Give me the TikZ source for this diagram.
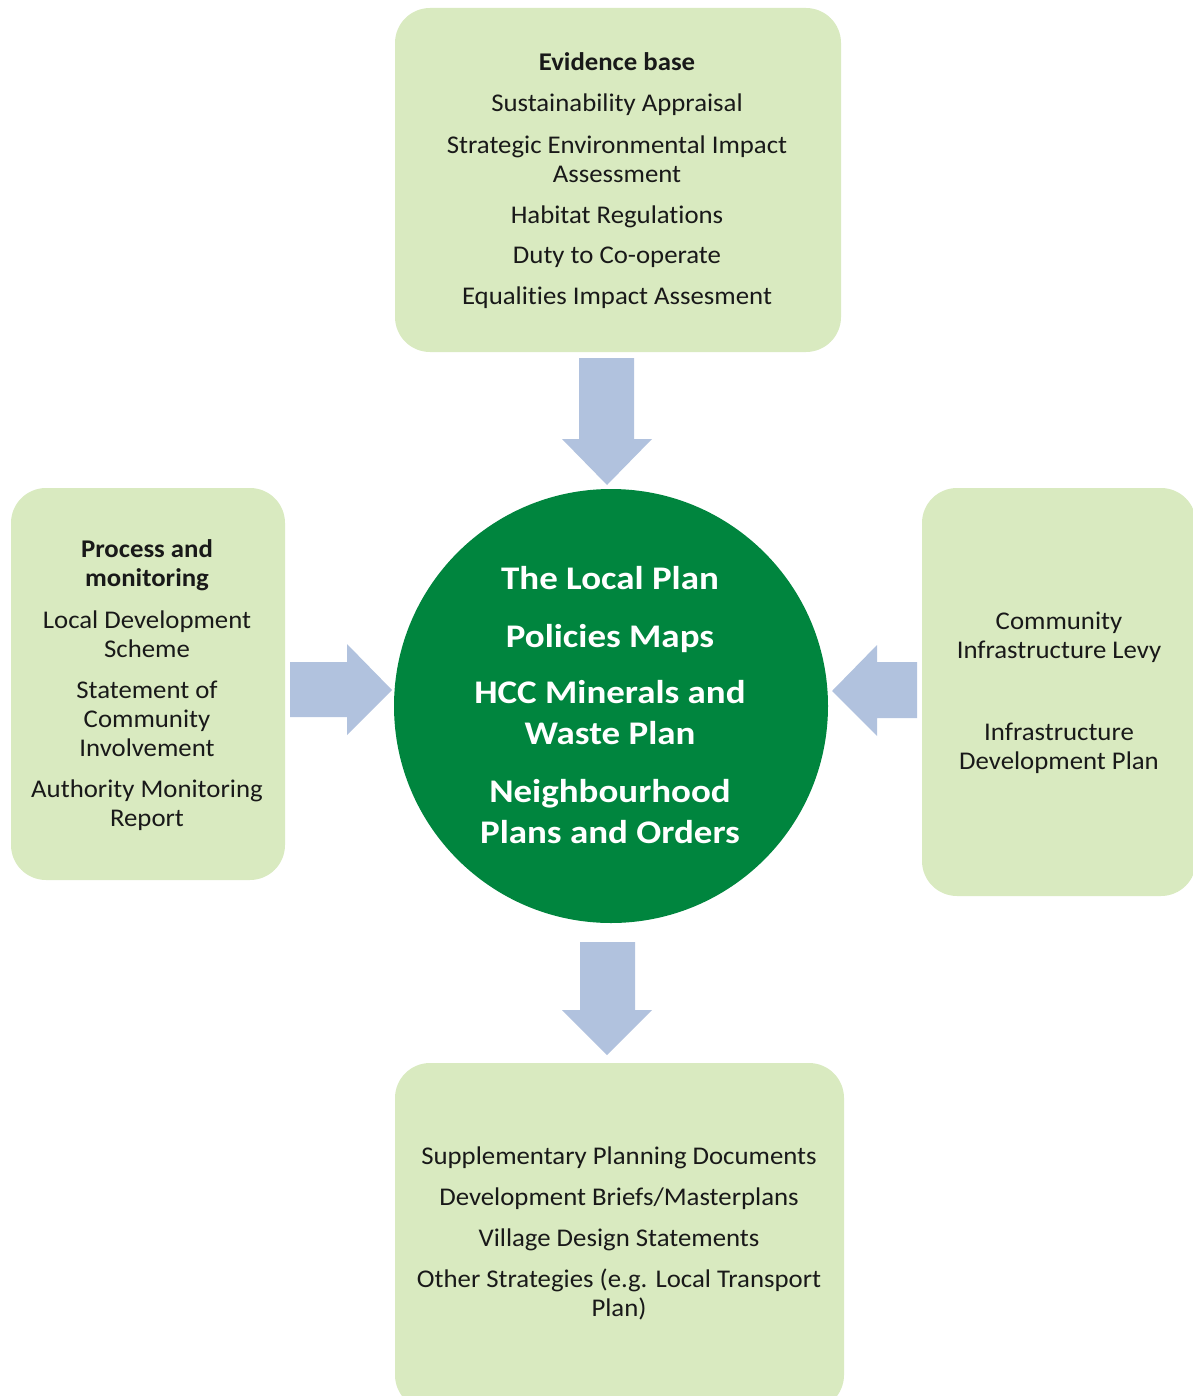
\documentclass[tikz,border=0pt]{standalone}
\usepackage{fontspec}
\setmainfont{Carlito}[FakeStretch=1.05, Ligatures=NoCommon]
\newfontfamily\circfont{Carlito}[FakeStretch=1.12, Ligatures=NoCommon]
\definecolor{boxgreen}{HTML}{D9EAC0}
\definecolor{circgreen}{HTML}{00853E}
\definecolor{arrowblue}{HTML}{B1C2DE}
\begin{document}
\begin{tikzpicture}[x=1pt,y=-1pt,
  box/.style={fill=boxgreen, rounded corners=35pt, inner sep=0pt},
  arr/.style={fill=arrowblue},
  txt/.style={anchor=base, inner sep=0pt, text=black!90, font=\fontsize{25.5}{31}\selectfont},
  btxt/.style={txt, font=\fontsize{25.5}{31}\selectfont\bfseries},
  ctxt/.style={anchor=base, inner sep=0pt, text=white, font=\circfont\fontsize{33}{41}\selectfont\bfseries}]
\useasboundingbox (0,0) rectangle (1192,1396);
% boxes
\node[box, minimum width=446pt, minimum height=344pt] (top) at (618,180) {};
\node[box, minimum width=274pt, minimum height=392pt] (left) at (148,684) {};
\node[box, minimum width=274pt, minimum height=408pt] (right) at (1059,692) {};
\node[box, minimum width=449pt, minimum height=347pt] (bottom) at (619.5,1236.5) {};
\node[circle, fill=circgreen, minimum size=434pt, inner sep=0pt] (plan) at (611,706) {};
% block arrows
\fill[arr] (579,358) -- (634,358) -- (634,439) -- (652,439) -- (607,485) -- (562,439) -- (579,439) -- cycle;
\fill[arr] (580,942) -- (635,942) -- (635,1010) -- (652,1010) -- (607,1055) -- (562,1010) -- (580,1010) -- cycle;
\fill[arr] (290,662) -- (347,662) -- (347,644) -- (392,690) -- (347,735) -- (347,717) -- (290,717) -- cycle;
\fill[arr] (917,662) -- (877,662) -- (877,645) -- (832,691) -- (877,736) -- (877,718) -- (917,718) -- cycle;
% top text
\node[btxt] (t1) at (617,71) {Evidence base};
\node[txt] (t2) at (617,112) {Sustainability Appraisal};
\node[txt] (t3) at (617,154) {Strategic Environmental Impact};
\node[txt] (t4) at (617,183) {Assessment};
\node[txt] (t5) at (617,224) {Habitat Regulations};
\node[txt] (t6) at (617,264) {Duty to Co-operate};
\node[txt] (t7) at (617,305) {Equalities Impact Assesment};
% left text
\node[btxt] (l1) at (147,557) {Process and};
\node[btxt] (l2) at (147,586) {monitoring};
\node[txt] (l3) at (147,628) {Local Development};
\node[txt] (l4) at (147,657) {Scheme};
\node[txt] (l5) at (147,698) {Statement of};
\node[txt] (l6) at (147,727) {Community};
\node[txt] (l7) at (147,756) {Involvement};
\node[txt] (l8) at (147,797) {Authority Monitoring};
\node[txt] (l9) at (147,826) {Report};
% right text
\node[txt] (r1) at (1059,629) {Community};
\node[txt] (r2) at (1059,658) {Infrastructure Levy};
\node[txt] (r3) at (1059,740) {Infrastructure};
\node[txt] (r4) at (1059,769) {Development Plan};
% bottom text
\node[txt] (b1) at (619,1164) {Supplementary Planning Documents};
\node[txt] (b2) at (619,1205) {Development Briefs/Masterplans};
\node[txt] (b3) at (619,1246) {Village Design Statements};
\node[txt] (b4) at (619,1287) {Other Strategies (e.g. Local Transport};
\node[txt] (b5) at (619,1316) {Plan)};
% circle text
\node[ctxt] (c1) at (610,589) {The Local Plan};
\node[ctxt] (c2) at (610,647) {Policies Maps};
\node[ctxt] (c3) at (610,703) {HCC Minerals and};
\node[ctxt] (c4) at (610,744) {Waste Plan};
\node[ctxt] (c5) at (610,802) {Neighbourhood};
\node[ctxt] (c6) at (610,843) {Plans and Orders};
\end{tikzpicture}
\end{document}
